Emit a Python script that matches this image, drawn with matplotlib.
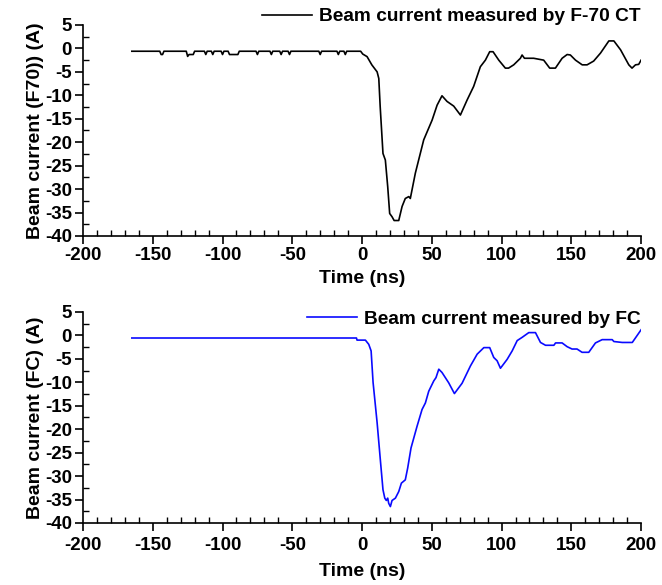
import matplotlib.pyplot as plt
from matplotlib.ticker import MultipleLocator

plt.rcParams['font.family'] = ['Liberation Sans', 'DejaVu Sans']
plt.rcParams['font.weight'] = 'bold'
plt.rcParams['axes.unicode_minus'] = False

# F-70 CT trace (ns, A)
ct_time = [-165, -145, -144, -143, -142, -126, -125, -124, -121, -120, -118, -113, -112, -111,
           -108, -107, -106, -101, -100, -99, -96, -95, -89, -88, -76, -75, -74, -66, -65, -64,
           -59, -58, -57, -53, -52, -51, -31, -30, -29, -18, -17, -16, -13, -12, -11, -1,
           0.5, 3.6, 7, 10.8, 12, 13, 15, 16.7, 18.4, 19.8, 21.5, 23, 26.3, 28.7, 31, 33.5,
           34.6, 38.2, 44.2, 50.2, 53.8, 57.3, 60.9, 65.7, 70.5, 75.3, 80, 84.8, 88.4, 91.5,
           93.9, 98, 102.7, 105, 108.7, 113.5, 114.7, 116.4, 123, 130.2, 134.5, 138.6, 143.4,
           147, 149.3, 153, 157.8, 161.3, 166, 170.9, 176.9, 180.5, 185.3, 191.2, 193.5, 196,
           198.3, 200]
ct_current = [-0.6, -0.6, -1.3, -1.3, -0.6, -0.6, -1.7, -1.3, -1.3, -0.6, -0.6, -0.6, -1.3, -0.6,
              -0.6, -1.3, -0.6, -0.6, -1.3, -0.6, -0.6, -1.3, -1.3, -0.6, -0.6, -1.3, -0.6, -0.6,
              -1.3, -0.6, -0.6, -1.3, -0.6, -0.6, -1.3, -0.6, -0.6, -1.3, -0.6, -0.6, -1.3, -0.6,
              -0.6, -1.3, -0.6, -0.6,
              -1.2, -1.75, -3.5, -5, -6.4, -12.4, -22.4, -23.8, -29.5, -35.2, -35.9, -36.7, -36.7,
              -33.7, -32, -31.6, -32, -26.6, -19.5, -15.3, -12.1, -10.1, -11.3, -12.3, -14.2, -11,
              -8.1, -3.9, -2.5, -0.7, -0.7, -2.5, -4.2, -4.2, -3.5, -2.1, -1.4, -2.1, -2.1, -2.5,
              -4.2, -4.2, -2.1, -1.3, -1.4, -2.5, -3.5, -3.5, -2.7, -1.0, 1.6, 1.6, -0.3, -3.5,
              -4.2, -3.5, -3.4, -2.5]

# Faraday cup trace (ns, A)
fc_time = [-165, -4, -3.6, 2.4, 4.8, 6.5, 7.9, 10.8, 13.1, 15, 16.3, 17.4, 18.4, 19.1, 20.3,
           21.5, 23.9, 26.3, 28.2, 31, 32.7, 35.1, 39.4, 43, 45.4, 47.8, 51.4, 53, 55, 57.3,
           62.1, 66.2, 71.7, 77.7, 82.5, 87.3, 91.5, 94.4, 96.8, 99.2, 104, 107.6, 111.2, 114.8,
           119.5, 124.3, 127.9, 131.5, 137.5, 138.7, 143.4, 147, 150.5, 154.1, 157.7, 162.5,
           167.3, 172.1, 179.3, 180.5, 186.5, 193.7, 200]
fc_current = [-0.55, -0.55, -1.0, -1.0, -1.9, -3.3, -10, -18.6, -26.5, -32.9, -34.7, -35.2, -34.7,
              -35.8, -36.5, -35.2, -34.7, -33.3, -31.5, -30.8, -28.3, -24, -19.4, -15.8, -14.4,
              -11.9, -9.7, -9, -7.2, -7.9, -10.1, -12.4, -10.2, -6.5, -4, -2.6, -2.6, -4.7, -5.4,
              -7, -5.1, -3.3, -1.1, -0.4, 0.6, 0.6, -1.5, -2.1, -2.1, -1.6, -1.6, -2.4, -2.9,
              -2.9, -3.6, -3.6, -1.6, -0.9, -0.9, -1.3, -1.5, -1.5, 1.2]

fig = plt.figure(figsize=(6.62, 5.85), dpi=100)
ax1 = fig.add_axes([0.1254, 0.5966, 0.843, 0.3607])
ax2 = fig.add_axes([0.1254, 0.106, 0.843, 0.3607])

ax1.plot(ct_time, ct_current, color='black', lw=1.2, label='Beam current measured by F-70 CT')
ax2.plot(fc_time, fc_current, color='#0a0aff', lw=1.2, label='Beam current measured by FC')

panels = [(ax1, 'Beam current (F70)) (A)', 1.04, 2, 4),
          (ax2, 'Beam current (FC) (A)', 0.967, 4, 6.5)]
for ax, ylab, leg_y, xpad, xlabpad in panels:
    ax.set_xlim(-200, 200)
    ax.set_ylim(-40, 5)
    ax.xaxis.set_major_locator(MultipleLocator(50))
    ax.xaxis.set_minor_locator(MultipleLocator(10))
    ax.yaxis.set_major_locator(MultipleLocator(5))
    ax.yaxis.set_minor_locator(MultipleLocator(2.5))
    ax.tick_params(which='major', direction='out', length=6, width=1.2, labelsize=13.5, pad=2)
    ax.tick_params(axis='x', which='major', pad=xpad)
    ax.tick_params(which='minor', direction='in', length=4, width=1.0)
    for s in ['top', 'right']:
        ax.spines[s].set_visible(False)
    for s in ['left', 'bottom']:
        ax.spines[s].set_linewidth(1.2)
    ax.set_xlabel('Time (ns)', fontsize=14, fontweight='bold', labelpad=xlabpad)
    ax.set_ylabel(ylab, fontsize=14, fontweight='bold', labelpad=1)
    ax.legend(loc='center right', bbox_to_anchor=(1.0, leg_y), frameon=False,
              fontsize=13.8, handlelength=2.6, handletextpad=0.4, borderpad=0,
              borderaxespad=0)

fig.savefig('out.png', dpi=100)
